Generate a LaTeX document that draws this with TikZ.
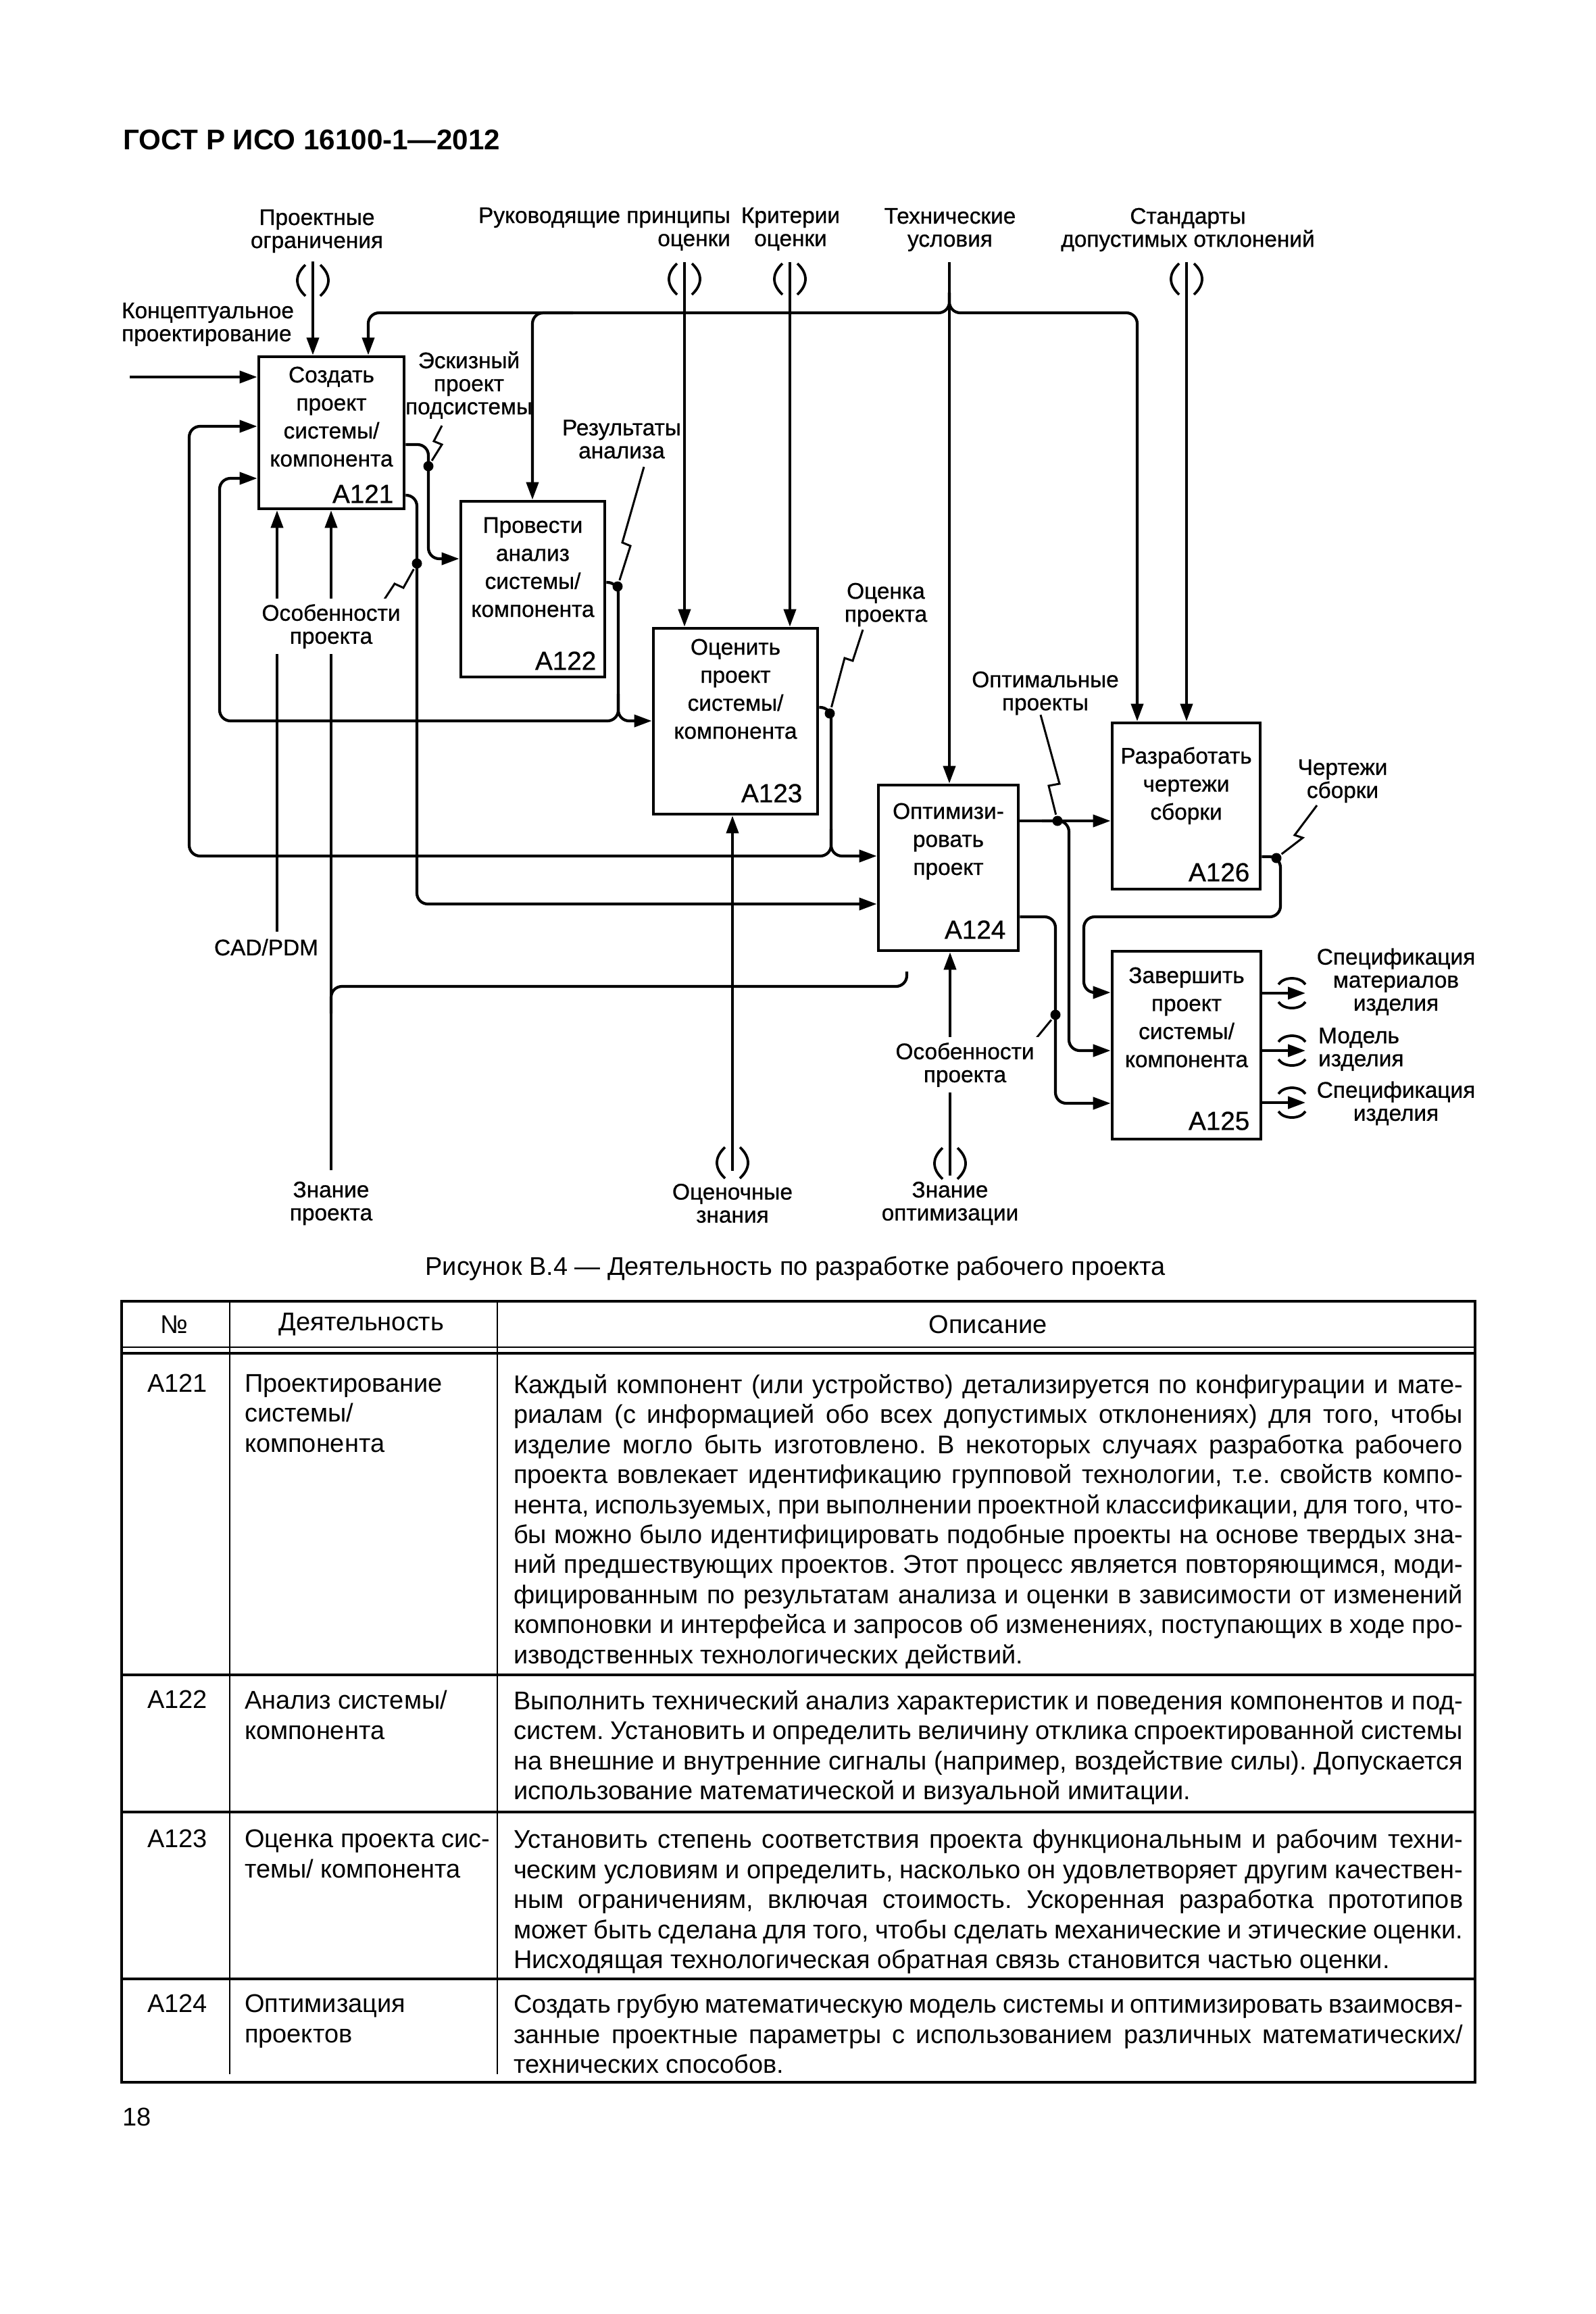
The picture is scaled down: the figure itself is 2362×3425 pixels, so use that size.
\documentclass[tikz,border=0pt]{standalone}
\usepackage{fontspec}
\setmainfont{Liberation Sans}
\newfontfamily\dgfont{Liberation Sans}[FakeBold=0.7]
\usetikzlibrary{arrows.meta, calc}

\newlength{\descw}
\setlength{\descw}{140.5mm}
\newcommand{\jl}[1]{\makebox[\descw][s]{#1}\\}
\frenchspacing

\begin{document}
\begin{tikzpicture}[x=0.1mm, y=-0.1mm, line width=0.42mm,
  arr/.style={-{Triangle[length=2.6mm, width=1.8mm]}},
  rc/.style={rounded corners=1.6mm},
  fbox/.style={draw, line width=0.48mm, inner sep=0pt},
  boxtxt/.style={anchor=north, align=center, inner sep=0pt, font=\dgfont\fontsize{9.5}{11.8}\selectfont},
  idx/.style={anchor=base east, inner sep=0pt, font=\dgfont\fontsize{11}{13}\selectfont},
  lab/.style={align=center, inner sep=0pt, font=\dgfont\fontsize{9.5}{9.7}\selectfont},
  dot/.style={circle, fill, inner sep=0pt, minimum size=1.5mm},
  zig/.style={line width=0.3mm},
  tun/.style={line width=0.38mm},
  tt/.style={anchor=north west, align=left, inner sep=0pt, font=\fontsize{10.8}{12.64}\selectfont}]

\path[fill=white] (0,0) rectangle (2362,3425);

\node[anchor=west, inner sep=0pt, font=\bfseries\fontsize{12}{14}\selectfont] (hdr) at (180,207) {ГОСТ Р ИСО 16100-1—2012};

% boxes
\node[fbox, minimum width=21.5mm, minimum height=22.5mm] (a121) at (490.5,640.5) {};
\node[fbox, minimum width=21.3mm, minimum height=26mm] (a122) at (788.5,872) {};
\node[fbox, minimum width=24.3mm, minimum height=27.5mm] (a123) at (1088.5,1067.5) {};
\node[fbox, minimum width=20.7mm, minimum height=24.5mm] (a124) at (1403.5,1284.5) {};
\node[fbox, minimum width=21.9mm, minimum height=24.6mm] (a126) at (1755.5,1193) {};
\node[fbox, minimum width=22mm, minimum height=27.8mm] (a125) at (1756,1547) {};

\node[boxtxt] (t121) at ($(a121.north)+(0,15)$) {Создать\\проект\\системы/\\компонента};
\node[boxtxt] (t122) at ($(a122.north)+(0,24)$) {Провести\\анализ\\системы/\\компонента};
\node[boxtxt] (t123) at ($(a123.north)+(0,16)$) {Оценить\\проект\\системы/\\компонента};
\node[boxtxt] (t124) at ($(a124.north)+(0,27)$) {Оптимизи-\\ровать\\проект};
\node[boxtxt] (t126) at ($(a126.north)+(0,36)$) {Разработать\\чертежи\\сборки};
\node[boxtxt] (t125) at ($(a125.north)+(0,24)$) {Завершить\\проект\\системы/\\компонента};

\node[idx] (n121) at ($(a121.south east)+(-16,-11)$) {A121};
\node[idx] (n122) at ($(a122.south east)+(-13,-13)$) {A122};
\node[idx] (n123) at ($(a123.south east)+(-23,-20)$) {A123};
\node[idx] (n124) at ($(a124.south east)+(-19,-20)$) {A124};
\node[idx] (n126) at ($(a126.south east)+(-16,-14)$) {A126};
\node[idx] (n125) at ($(a125.south east)+(-17,-16)$) {A125};

\coordinate (ogr) at (463,387);
\coordinate (ruk) at (1013,388);
\coordinate (krit) at (1169,388);
\coordinate (tech) at (1405,388);
\coordinate (std) at (1756,388);
\coordinate (tj) at (1405,463);
\coordinate (k121) at (545,463);
\coordinate (k122) at (788,463);
\coordinate (k126) at (1683,463);
\coordinate (conc) at (192,558);
\coordinate (e1) at (634,658);
\coordinate (e2) at (634,827);
\coordinate (f1) at (617,733);
\coordinate (f2) at (617,1338);
\coordinate (g1) at (915,862);
\coordinate (g2) at (915,1067);
\coordinate (g3) at (325,1067);
\coordinate (g4) at (325,708);
\coordinate (h1) at (1230,1047);
\coordinate (h2) at (1230,1267);
\coordinate (h3) at (280,1267);
\coordinate (h4) at (280,631);
\coordinate (p1) at (1582,1215);
\coordinate (p2) at (1582,1555);
\coordinate (q1) at (1562,1357);
\coordinate (q2) at (1562,1633);
\coordinate (r1) at (1895,1268);
\coordinate (r2) at (1895,1357);
\coordinate (r3) at (1604,1357);
\coordinate (r4) at (1604,1469);
\coordinate (o1) at (1932,1470);
\coordinate (o2) at (1932,1555);
\coordinate (o3) at (1932,1632);
\coordinate (cad) at (410,1379);
\coordinate (znp) at (490,1732);
\coordinate (m1) at (490,1460);
\coordinate (m2) at (1342,1460);
\coordinate (m3) at (1342,1438);
\coordinate (ocz) at (1084,1733);
\coordinate (zno) at (1406,1740);

% controls
\draw[arr] (ogr) -- (ogr |- a121.north);
\draw[arr] (ruk) -- (ruk |- a123.north);
\draw[arr] (krit) -- (krit |- a123.north);
\draw[arr] (tech) -- (tech |- a124.north);
\draw[arr] (std) -- (std |- a126.north);
\draw[arr, rc] ($(tj)+(0,-30)$) -- (tj) -- (k121) -- (k121 |- a121.north);
\draw[arr, rc] ($(tj)+(0,-30)$) -- (tj) -- (k126) -- (k126 |- a126.north);
\draw[arr, rc] ($(k122)+(60,0)$) -- (k122) -- (k122 |- a122.north);

% inputs and outputs
\draw[arr] (conc) -- (conc -| a121.west);
\draw[arr, rc] (a121.east |- e1) -- (e1) -- (e2) -- (e2 -| a122.west);
\draw[arr, rc] (a121.east |- f1) -- (f1) -- (f2) -- (f2 -| a124.west);
\draw[arr, rc] (a122.east |- g1) -- (g1) -- (g2) -- (g3) -- (g4) -- (g4 -| a121.west);
\draw[arr, rc] ($(g2)+(0,-40)$) -- (g2) -- (g2 -| a123.west);
\draw[arr, rc] (a123.east |- h1) -- (h1) -- (h2) -- (h3) -- (h4) -- (h4 -| a121.west);
\draw[arr, rc] ($(h2)+(0,-40)$) -- (h2) -- (h2 -| a124.west);
\draw[arr] (a124.east |- p1) -- (p1 -| a126.west);
\draw[arr, rc] ($(p1)+(-40,0)$) -- (p1) -- (p2) -- (p2 -| a125.west);
\draw[arr, rc] (a124.east |- q1) -- (q1) -- (q2) -- (q2 -| a125.west);
\draw[arr, rc] (a126.east |- r1) -- (r1) -- (r2) -- (r3) -- (r4) -- (r4 -| a125.west);
\draw[arr] (a125.east |- o1) -- (o1);
\draw[arr] (a125.east |- o2) -- (o2);
\draw[arr] (a125.east |- o3) -- (o3);

% mechanisms
\draw[arr] (cad) -- (cad |- a121.south);
\draw[arr] (znp) -- (znp |- a121.south);
\draw[rc] ($(m1)+(0,40)$) -- (m1) -- (m2) -- (m3);
\draw[arr] (ocz) -- (ocz |- a123.south);
\draw[arr] (zno) -- (zno |- a124.south);

% tunnels
\foreach \x/\y in {463/415, 1013/413, 1169/413, 1756/413, 1084/1721, 1406/1722} {
  \draw[tun] (\x-11,\y-23) .. controls (\x-27,\y-8) and (\x-27,\y+8) .. (\x-11,\y+23);
  \draw[tun] (\x+11,\y-23) .. controls (\x+27,\y-8) and (\x+27,\y+8) .. (\x+11,\y+23);
}
\foreach \y in {1470,1555,1632} {
  \draw[tun] (1892,\y-13) .. controls (1900,\y-25) and (1924,\y-25) .. (1932,\y-13);
  \draw[tun] (1892,\y+13) .. controls (1900,\y+25) and (1924,\y+25) .. (1932,\y+13);
}

% dots and squiggles
\node[dot] (dEsk) at (634,690) {};
\node[dot] (dOs1) at (617,834) {};
\node[dot] (dRes) at (914,868) {};
\node[dot] (dOc) at (1228,1056) {};
\node[dot] (dOpt) at (1565,1215) {};
\node[dot] (dCh) at (1889,1270) {};
\node[dot] (dOs2) at (1562,1502) {};
\draw[zig] (654,630) -- (642,653) -- (654,658) -- (dEsk);
\draw[zig] (565,893) -- (584,864) -- (597,870) -- (dOs1);
\draw[zig] (953,691) -- (921,803) -- (933,808) -- (dRes);
\draw[zig] (1277,932) -- (1262,978) -- (1250,974) -- (dOc);
\draw[zig] (1540,1058) -- (1568,1160) -- (1552,1163) -- (dOpt);
\draw[zig] (1949,1192) -- (1916,1236) -- (1928,1240) -- (dCh);
\draw[zig] (1526,1546) -- (dOs2);

% labels
\node[lab] (lOgr) at (469,342) {Проектные\\ограничения};
\node[lab, align=right, anchor=east] (lRuk) at (1083,339) {Руководящие принципы\\оценки};
\node[lab] (lKrit) at (1170,339) {Критерии\\оценки};
\node[lab] (lTech) at (1406,340) {Технические\\условия};
\node[lab] (lStd) at (1758,340) {Стандарты\\допустимых отклонений};
\node[lab, align=left, anchor=west] (lConc) at (178,480) {Концептуальное\\проектирование};
\node[lab] (lEsk) at (694,570) {Эскизный\\проект\\подсистемы};
\node[lab] (lRes) at (920,650) {Результаты\\анализа};
\node[lab] (lOc) at (1311,895) {Оценка\\проекта};
\node[lab] (lOpt) at (1547,1026) {Оптимальные\\проекты};
\node[lab] (lCh) at (1987,1156) {Чертежи\\сборки};
\node[lab] (lCad) at (394,1402) {CAD/PDM};
\node[lab] (lZp) at (490,1781) {Знание\\проекта};
\node[lab] (lOz) at (1084,1781) {Оценочные\\знания};
\node[lab] (lZo) at (1406,1781) {Знание\\оптимизации};
\node[lab] (lSm) at (2066,1453) {Спецификация\\материалов\\изделия};
\node[lab, align=left, anchor=west] (lMod) at (1949,1553) {Модель\\изделия};
\node[lab] (lSi) at (2066,1633) {Спецификация\\изделия};
\node[lab, fill=white, inner sep=0.8mm] (lOs1) at (490,927) {Особенности\\проекта};
\node[lab, fill=white, inner sep=0.8mm] (lOs2) at (1428,1576) {Особенности\\проекта};

\node[font=\fontsize{10.8}{12.64}\selectfont, inner sep=0pt] (cap) at (1177,1877) {Рисунок В.4 — Деятельность по разработке рабочего проекта};

% table
\draw[line width=0.35mm] (180,1926) rectangle (2183,3082);
\draw[line width=0.2mm] (180,1994) -- (2183,1994);
\draw[line width=0.35mm] (180,2003) -- (2183,2003);
\draw[line width=0.35mm] (180,2479) -- (2183,2479);
\draw[line width=0.35mm] (180,2682) -- (2183,2682);
\draw[line width=0.35mm] (180,2929) -- (2183,2929);
\draw[line width=0.2mm] (340,1926) -- (340,3070);
\draw[line width=0.2mm] (736,1926) -- (736,3070);

\node[tt, anchor=center] (hNo) at (258,1960) {№};
\node[tt, anchor=center] (hAct) at (535,1960) {Деятельность};
\node[tt, anchor=center] (hDesc) at (1462,1960) {Описание};

\node[tt] (c121) at (216,2032) {A121};
\node[tt] (c122) at (216,2500) {A122};
\node[tt] (c123) at (216,2706) {A123};
\node[tt] (c124) at (216,2950) {A124};

\node[tt] (w121) at (360,2032) {Проектирование\\системы/\\компонента};
\node[tt] (w122) at (360,2500) {Анализ системы/\\компонента};
\node[tt] (w123) at (360,2706) {Оценка проекта сис-\\темы/ компонента};
\node[tt] (w124) at (360,2950) {Оптимизация\\проектов};

\node[tt] (d121) at (758,2032) {%
\jl{Каждый компонент (или устройство) детализируется по конфигурации и мате-}%
\jl{риалам (с информацией обо всех допустимых отклонениях) для того, чтобы}%
\jl{изделие могло быть изготовлено. В некоторых случаях разработка рабочего}%
\jl{проекта вовлекает идентификацию групповой технологии, т.е. свойств компо-}%
\jl{нента, используемых, при выполнении проектной классификации, для того, что-}%
\jl{бы можно было идентифицировать подобные проекты на основе твердых зна-}%
\jl{ний предшествующих проектов. Этот процесс является повторяющимся, моди-}%
\jl{фицированным по результатам анализа и оценки в зависимости от изменений}%
\jl{компоновки и интерфейса и запросов об изменениях, поступающих в ходе про-}%
изводственных технологических действий.};
\node[tt] (d122) at (758,2500) {%
\jl{Выполнить технический анализ характеристик и поведения компонентов и под-}%
\jl{систем. Установить и определить величину отклика спроектированной системы}%
\jl{на внешние и внутренние сигналы (например, воздействие силы). Допускается}%
использование математической и визуальной имитации.};
\node[tt] (d123) at (758,2706) {%
\jl{Установить степень соответствия проекта функциональным и рабочим техни-}%
\jl{ческим условиям и определить, насколько он удовлетворяет другим качествен-}%
\jl{ным ограничениям, включая стоимость. Ускоренная разработка прототипов}%
\jl{может быть сделана для того, чтобы сделать механические и этические оценки.}%
Нисходящая технологическая обратная связь становится частью оценки.};
\node[tt] (d124) at (758,2950) {%
\jl{Создать грубую математическую модель системы и оптимизировать взаимосвя-}%
\jl{занные проектные параметры с использованием различных математических/}%
технических способов.};

\node[anchor=west, inner sep=0pt, font=\fontsize{10.8}{12.6}\selectfont] (pg) at (179,3133) {18};
\end{tikzpicture}
\end{document}
